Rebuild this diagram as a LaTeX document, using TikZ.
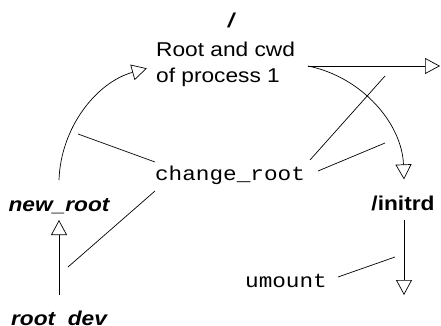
\documentclass[tikz,border=0pt]{standalone}
\usepackage{graphicx}
\usepackage{fontspec}
\newfontfamily\sansx{Liberation Sans}
\newfontfamily\monox{Liberation Mono}
\usetikzlibrary{arrows.meta}
\newcommand{\sxt}[1]{\scalebox{1.135}[1]{#1}}
\tikzset{
  lbl/.style={font=\sansx\fontsize{20}{26.5}\selectfont, inner sep=0pt},
  bilbl/.style={font=\sansx\bfseries\itshape\fontsize{20}{24}\selectfont, inner sep=0pt},
  blbl/.style={font=\sansx\bfseries\fontsize{20}{24}\selectfont, inner sep=0pt},
  mlbl/.style={font=\monox\fontsize{20}{24}\selectfont, inner sep=0pt},
  conn/.style={draw=black, line width=0.7pt},
  arr/.style={conn, -{Triangle[open,length=15pt,width=16pt]}},
}
\begin{document}
\begin{tikzpicture}[x=1pt,y=1pt]
\useasboundingbox (0,0) rectangle (441,325);
% text nodes
\node[bilbl, anchor=base] (slash) at (231,298) {\sxt{/}};
\node[lbl, anchor=base west] (root) at (156,242.5) {\sxt{\begin{tabular}[b]{@{}l@{}}Root and cwd\\of process 1\end{tabular}}};
\node[mlbl, anchor=base] (chroot) at (230,145) {\sxt{change\_root}};
\node[bilbl, anchor=base] (newroot) at (59,114) {\sxt{new\_root}};
\node[blbl, anchor=base] (initrd) at (403,115) {\sxt{/initrd}};
\node[bilbl, anchor=base] (rootdev) at (59,0) {\sxt{root\_dev}};
\node[mlbl, anchor=base] (umount) at (286,38) {\sxt{umount}};
% coordinates
\coordinate (hs) at (308,259);
\coordinate (he) at (440,259);
\coordinate (ls) at (59,145);
\coordinate (rdtop) at (59,30);
\coordinate (nrbot) at (59,105);
\coordinate (itbot) at (404,105);
\coordinate (itend) at (404,30);
\coordinate (pa1) at (78,191);  \coordinate (pa2) at (155,163);
\coordinate (pb1) at (155,134); \coordinate (pb2) at (68,58);
\coordinate (pc1) at (310,165); \coordinate (pc2) at (385,249);
\coordinate (pd1) at (318,154); \coordinate (pd2) at (385,182);
\coordinate (pe1) at (338,48);  \coordinate (pe2) at (395,68);
% arrows
\draw[arr] (hs) -- (he);
\draw[arr] (hs) arc[start angle=78.5, end angle=2, radius=120];
\draw[arr] (ls) arc[start angle=178.1, end angle=105.5, radius=120];
\draw[arr] (rdtop) -- (nrbot);
\draw[arr] (itbot) -- (itend);
% pointer lines
\draw[conn] (pa1) -- (pa2);
\draw[conn] (pb1) -- (pb2);
\draw[conn] (pc1) -- (pc2);
\draw[conn] (pd1) -- (pd2);
\draw[conn] (pe1) -- (pe2);
\end{tikzpicture}
\end{document}
